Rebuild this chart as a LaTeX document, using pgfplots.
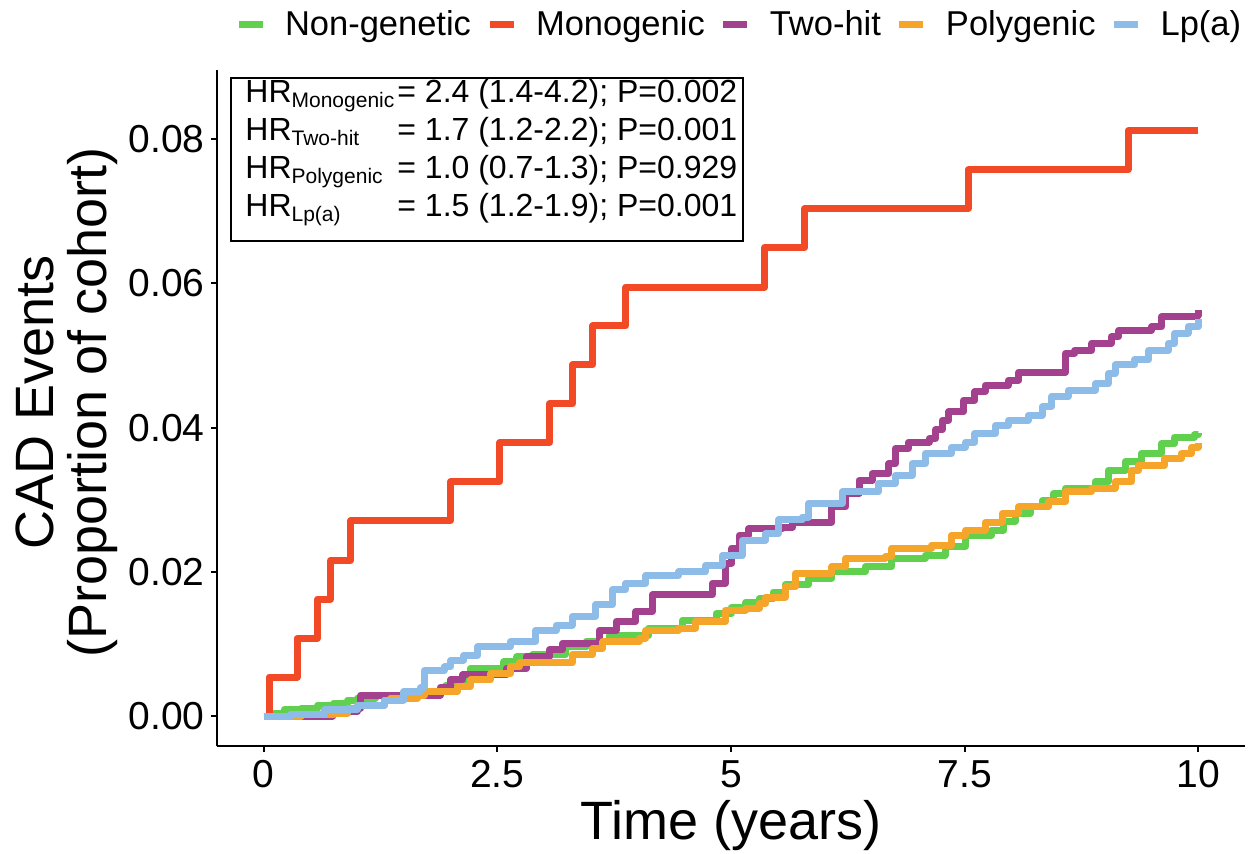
\documentclass[border=0pt]{standalone}
\usepackage{fontspec}
\setmainfont{Liberation Sans}
\usepackage{pgfplots}
\pgfplotsset{compat=1.18}

\definecolor{cNon}{HTML}{61D04F}
\definecolor{cMono}{HTML}{F24A26}
\definecolor{cTwo}{HTML}{A3418E}
\definecolor{cPoly}{HTML}{F5A52A}
\definecolor{cLpa}{HTML}{8DBCE8}

\begin{document}
\begin{tikzpicture}
\begin{axis}[
  scale only axis, width=514pt, height=338pt,
  xmin=-0.5, xmax=10.5, ymin=-0.00416, ymax=0.0896,
  axis x line=bottom, axis y line=left,
  axis line style={-, line width=1pt, black},
  tick align=outside, major tick length=3pt,
  tick style={line width=1pt, black},
  scaled y ticks=false, scaled x ticks=false,
  xtick={0,2.5,5,7.5,10}, xticklabels={0,2.5,5,7.5,10},
  ytick={0,0.02,0.04,0.06,0.08}, yticklabels={0.00,0.02,0.04,0.06,0.08},
  /pgf/number format/assume math mode=true,
  ticklabel style={font=\fontsize{19.5}{20}\selectfont, text=black},
  xticklabel style={inner sep=0pt, anchor=north, yshift=-4pt},
  yticklabel style={inner sep=0pt, anchor=east, xshift=-3pt},
  xlabel={Time (years)},
  ylabel={CAD Events\\(Proportion of cohort)},
  label style={font=\fontsize{27}{26.5}\selectfont},
  xlabel style={at={(rel axis cs:0.5,-0.139)}, anchor=base},
  ylabel style={at={(rel axis cs:-0.1464,0.508)}, anchor=center, align=center},
  every axis plot/.append style={const plot, line width=3.5pt, line join=round, line cap=butt, mark=none},
  legend columns=5,
  legend cell align=left,
  legend image code/.code={\draw[#1, line width=3.5pt] (0pt,0pt) -- (12pt,0pt);},
  legend style={at={(0.0175,1.068)}, anchor=west, draw=none, fill=none,
    inner sep=0pt, outer sep=0pt,
    font=\fontsize{17.25}{18}\selectfont,
    nodes={inner xsep=0pt, inner ysep=1pt},
    /tikz/every odd column/.append style={column sep=9.5pt},
    /tikz/every even column/.append style={column sep=7.5pt}},
]

% Non-genetic
\addplot[color=cNon] coordinates {
(0,0) (0.1,0.0004) (0.22,0.0009) (0.4,0.0011) (0.58,0.0015) (0.75,0.0018)
(0.9,0.0022) (1.0,0.0025) (1.2,0.0028) (1.65,0.0031) (1.82,0.0034)
(1.95,0.0042) (2.07,0.0050) (2.21,0.0066) (2.57,0.0075) (2.71,0.0082)
(2.88,0.0085) (3.23,0.0096) (3.45,0.0104) (3.70,0.0112) (4.12,0.0122)
(4.48,0.0133) (4.84,0.0142) (5.0,0.0150) (5.16,0.0158) (5.30,0.0163)
(5.45,0.0172) (5.58,0.0182) (5.83,0.0191) (6.08,0.0200) (6.44,0.0207)
(6.72,0.0219) (7.08,0.0223) (7.29,0.0235) (7.51,0.0251) (7.79,0.0258)
(7.92,0.0270) (8.04,0.0281) (8.2,0.0290) (8.33,0.0299) (8.45,0.0308)
(8.58,0.0316) (8.90,0.0325) (9.04,0.0341) (9.22,0.0353) (9.39,0.0364)
(9.61,0.0378) (9.75,0.0387) (9.96,0.0390) (10,0.0393)
};
\addlegendentry{Non-genetic}

% Monogenic
\addplot[color=cMono] coordinates {
(0,0) (0.057,0.0054) (0.356,0.0108) (0.574,0.0162) (0.716,0.0216)
(0.93,0.0271) (2.0,0.0325) (2.525,0.0379) (3.056,0.0433) (3.305,0.0487)
(3.52,0.0541) (3.875,0.0595) (5.36,0.0650) (5.79,0.0704) (7.54,0.0758)
(9.25,0.0812) (10,0.0812)
};
\addlegendentry{Monogenic}

% Two-hit
\addplot[color=cTwo] coordinates {
(0,0) (0.74,0.0006) (1.0,0.0011) (1.04,0.0029) (1.89,0.0040) (2.0,0.0050)
(2.13,0.0057) (2.6,0.0066) (2.81,0.0082) (3.06,0.0092) (3.20,0.0101)
(3.59,0.0119) (3.77,0.0131) (3.98,0.0145) (4.16,0.0168) (4.80,0.0184)
(4.94,0.0212) (5.01,0.0233) (5.09,0.0251) (5.19,0.0260) (5.55,0.0262)
(5.66,0.0269) (6.08,0.0290) (6.23,0.0309) (6.37,0.0327) (6.51,0.0336)
(6.69,0.0350) (6.76,0.0371) (6.90,0.0380) (7.12,0.0385) (7.19,0.0397)
(7.26,0.0410) (7.33,0.0422) (7.49,0.0438) (7.61,0.0450) (7.72,0.0459)
(7.97,0.0466) (8.08,0.0477) (8.58,0.0503) (8.68,0.0507) (8.86,0.0517)
(9.07,0.0526) (9.15,0.0535) (9.5,0.0540) (9.61,0.0554) (9.99,0.0556)
(10,0.0563)
};
\addlegendentry{Two-hit}

% Polygenic
\addplot[color=cPoly] coordinates {
(0,0) (0.4,0.0002) (0.75,0.0004) (0.9,0.0010) (1.0,0.0015) (1.29,0.0022)
(1.36,0.0025) (1.65,0.0029) (1.72,0.0034) (2.07,0.0041) (2.21,0.0050)
(2.43,0.0059) (2.64,0.0068) (2.74,0.0074) (3.30,0.0085) (3.52,0.0094)
(3.63,0.0103) (4.02,0.0108) (4.09,0.0119) (4.44,0.0122) (4.62,0.0131)
(4.94,0.0147) (5.16,0.0149) (5.30,0.0156) (5.37,0.0165) (5.58,0.0179)
(5.69,0.0198) (6.08,0.0207) (6.23,0.0219) (6.65,0.0221) (6.72,0.0233)
(7.15,0.0237) (7.36,0.0251) (7.51,0.0258) (7.72,0.0269) (7.90,0.0281)
(8.08,0.0290) (8.40,0.0297) (8.58,0.0311) (8.86,0.0316) (9.11,0.0325)
(9.29,0.0341) (9.36,0.0348) (9.64,0.0357) (9.82,0.0364) (9.93,0.0373)
(10,0.0378)
};
\addlegendentry{Polygenic}

% Lp(a)
\addplot[color=cLpa] coordinates {
(0,0) (0.29,0.0002) (0.65,0.0009) (1.0,0.0015) (1.29,0.0022) (1.50,0.0034)
(1.68,0.0039) (1.72,0.0063) (1.93,0.0068) (2.0,0.0077) (2.14,0.0084)
(2.29,0.0096) (2.64,0.0103) (2.91,0.0119) (3.13,0.0126) (3.30,0.0138)
(3.55,0.0154) (3.73,0.0175) (3.87,0.0184) (4.09,0.0195) (4.44,0.0200)
(4.73,0.0209) (4.91,0.0223) (5.12,0.0244) (5.37,0.0253) (5.51,0.0272)
(5.76,0.0276) (5.83,0.0295) (6.19,0.0311) (6.58,0.0323) (6.76,0.0334)
(6.94,0.0350) (7.08,0.0364) (7.36,0.0373) (7.51,0.0380) (7.61,0.0392)
(7.83,0.0403) (7.97,0.0410) (8.18,0.0417) (8.33,0.0429) (8.43,0.0443)
(8.61,0.0452) (8.90,0.0461) (9.04,0.0475) (9.11,0.0487) (9.32,0.0494)
(9.47,0.0507) (9.68,0.0517) (9.75,0.0531) (9.89,0.0540) (10,0.0551)
};
\addlegendentry{Lp(a)}

% hazard ratio box
\draw[line width=1pt, fill=white] (rel axis cs:0.01362,0.74704) rectangle (rel axis cs:0.5117,0.98817);
\begin{scope}[every node/.style={anchor=base west, inner sep=0pt, font=\fontsize{16}{18}\selectfont}]
\node at (rel axis cs:0.02724,0.95266) {HR\raisebox{-2.5pt}{\fontsize{10.5}{12}\selectfont Monogenic}};
\node at (rel axis cs:0.1751,0.95266) {= 2.4 (1.4-4.2); P=0.002};
\node at (rel axis cs:0.02724,0.89645) {HR\raisebox{-2.5pt}{\fontsize{10.5}{12}\selectfont Two-hit}};
\node at (rel axis cs:0.1751,0.89645) {= 1.7 (1.2-2.2); P=0.001};
\node at (rel axis cs:0.02724,0.84024) {HR\raisebox{-2.5pt}{\fontsize{10.5}{12}\selectfont Polygenic}};
\node at (rel axis cs:0.1751,0.84024) {= 1.0 (0.7-1.3); P=0.929};
\node at (rel axis cs:0.02724,0.78402) {HR\raisebox{-2.5pt}{\fontsize{10.5}{12}\selectfont Lp(a)}};
\node at (rel axis cs:0.1751,0.78402) {= 1.5 (1.2-1.9); P=0.001};
\end{scope}

\coordinate (bbll) at (rel axis cs:-0.2111,-0.1583);
\coordinate (bbur) at (rel axis cs:1.0107,1.1036);
\end{axis}
\pgfresetboundingbox
\path (bbll) rectangle (bbur);
\end{tikzpicture}
\end{document}
